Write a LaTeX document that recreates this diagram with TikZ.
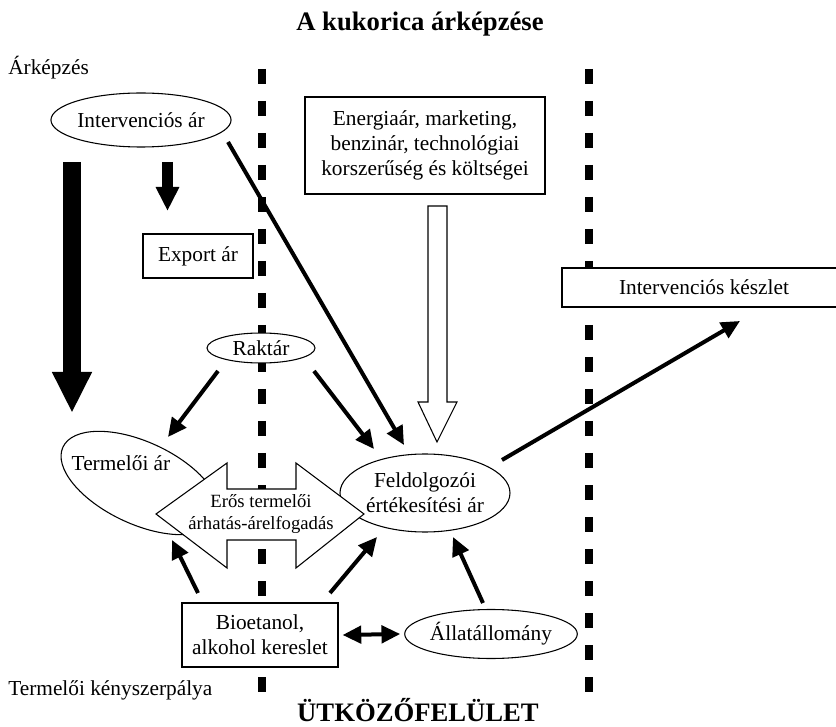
\documentclass[tikz,border=0pt]{standalone}
\usepackage{fontspec}
\setmainfont{Liberation Serif}
\usetikzlibrary{arrows.meta,shapes.geometric,calc}

\begin{document}
\begin{tikzpicture}[x=0.75pt,y=-0.75pt,
  txt/.style={font=\fontsize{16}{19}\selectfont, inner sep=0pt},
  headline/.style={font=\bfseries\fontsize{20}{24}\selectfont, inner sep=0pt},
  oval/.style={ellipse, draw, line width=0.8pt, fill=white, align=center,
    inner sep=0pt, font=\fontsize{16}{19}\selectfont},
  boxnode/.style={rectangle, draw, line width=0.9pt, fill=white, align=center,
    inner sep=0pt, font=\fontsize{16}{19}\selectfont},
  frontier/.style={line width=6pt, dash pattern=on 11.25pt off 12.75pt},
  tip/.tip={Triangle[length=14pt,width=13pt]},
  conn/.style={line width=3pt, -tip},
  conntwo/.style={line width=3pt, tip-tip},
  hollow/.style={draw, line width=0.8pt, fill=white, line join=miter},
]
\useasboundingbox (0,0) rectangle (836,727);

% headings and side labels
\node[headline, anchor=base] (title) at (420,31) {A kukorica árképzése};
\node[txt, anchor=west] (arkepzes) at (8,68) {Árképzés};
\node[txt, anchor=west] (kenyszer) at (8,690) {Termelői kényszerpálya};
\node[headline, anchor=base] (utkozo) at (418,721) {ÜTKÖZŐFELÜLET};

% the two dashed frontier lines
\coordinate (fl1) at (262,69);
\coordinate (fl2) at (262,693);
\coordinate (fr1) at (589,69);
\coordinate (fr2) at (589,693);
\draw[frontier] (fl1) -- (fl2);
\draw[frontier] (fr1) -- (fr2);

% ellipses lying under the double arrow
\node[oval, minimum width=127.5pt, minimum height=61.5pt, rotate=-25] (termelo) at (140,483) {};
\node[txt] (termelotxt) at (121,463) {Termelői ár};
\node[oval, minimum width=127.5pt, minimum height=58.5pt] (feld) at (425,493)
  {Feldolgozói\\értékesítési ár};

% double arrow between producer and processor prices
\draw[hollow] (156,514) -- (227,463) -- (227,489) -- (296,489) -- (296,463)
  -- (364,514) -- (296,568) -- (296,540) -- (227,540) -- (227,568) -- cycle;
\node[align=center, inner sep=0pt, font=\fontsize{14}{16.5}\selectfont] (eros) at (261,514)
  {Erős termelői\\árhatás-árelfogadás};

% remaining nodes
\node[oval, minimum width=133.5pt, minimum height=40.5pt] (interv) at (141,120) {Intervenciós ár};
\node[boxnode, minimum width=82.5pt, minimum height=33pt] (export) at (198,256) {Export ár};
\node[boxnode, minimum width=180pt, minimum height=72.75pt] (energy) at (425,145.5)
  {Energiaár, marketing,\\benzinár, technológiai\\korszerűség és költségei};
\node[boxnode, minimum width=213pt, minimum height=29.25pt] (keszlet) at (704,287.5)
  {Intervenciós készlet};
\node[oval, minimum width=81pt, minimum height=22.5pt] (raktar) at (261,348) {Raktár};
\node[boxnode, minimum width=117pt, minimum height=48pt] (bio) at (260,635)
  {Bioetanol,\\alkohol kereslet};
\node[oval, minimum width=127.5pt, minimum height=36.75pt] (allat) at (491,634) {Állatállomány};

% heavy downward arrows on the left
\coordinate (big1) at (72,162);
\coordinate (big2) at (72,413);
\draw[line width=13.5pt, -{Triangle[length=30.75pt,width=27.75pt]}] (big1) -- (big2);
\coordinate (small1) at (167.5,162);
\coordinate (small2) at (167.5,211);
\draw[line width=8.25pt, -{Triangle[length=18pt,width=16.5pt]}] (small1) -- (small2);

% hollow arrow from the cost box to the processor price
\draw[hollow] (428,206) -- (447,206) -- (447,402) -- (457,402) -- (437,442)
  -- (418,402) -- (428,402) -- cycle;

% connectors
\draw[conn] ($(interv)+(87,22)$) -- ($(feld)+(-21,-48)$);
\draw[conn] ($(raktar)+(-43,23)$) -- ($(termelo)+(28,-46)$);
\draw[conn] ($(raktar)+(53,23)$) -- ($(feld)+(-51,-44)$);
\draw[conn] ($(bio)+(-62,-42)$) -- ($(termelo)+(32,57)$);
\draw[conn] ($(bio)+(70,-42)$) -- ($(feld)+(-48,44)$);
\draw[conntwo] ($(bio.east)+(4,0)$) -- ($(allat.west)+(-4,0)$);
\draw[conn] ($(allat)+(-8,-31)$) -- ($(feld)+(28,44)$);
\draw[conn] ($(feld)+(77,-33)$) -- ($(keszlet)+(36,33.5)$);
\end{tikzpicture}
\end{document}
